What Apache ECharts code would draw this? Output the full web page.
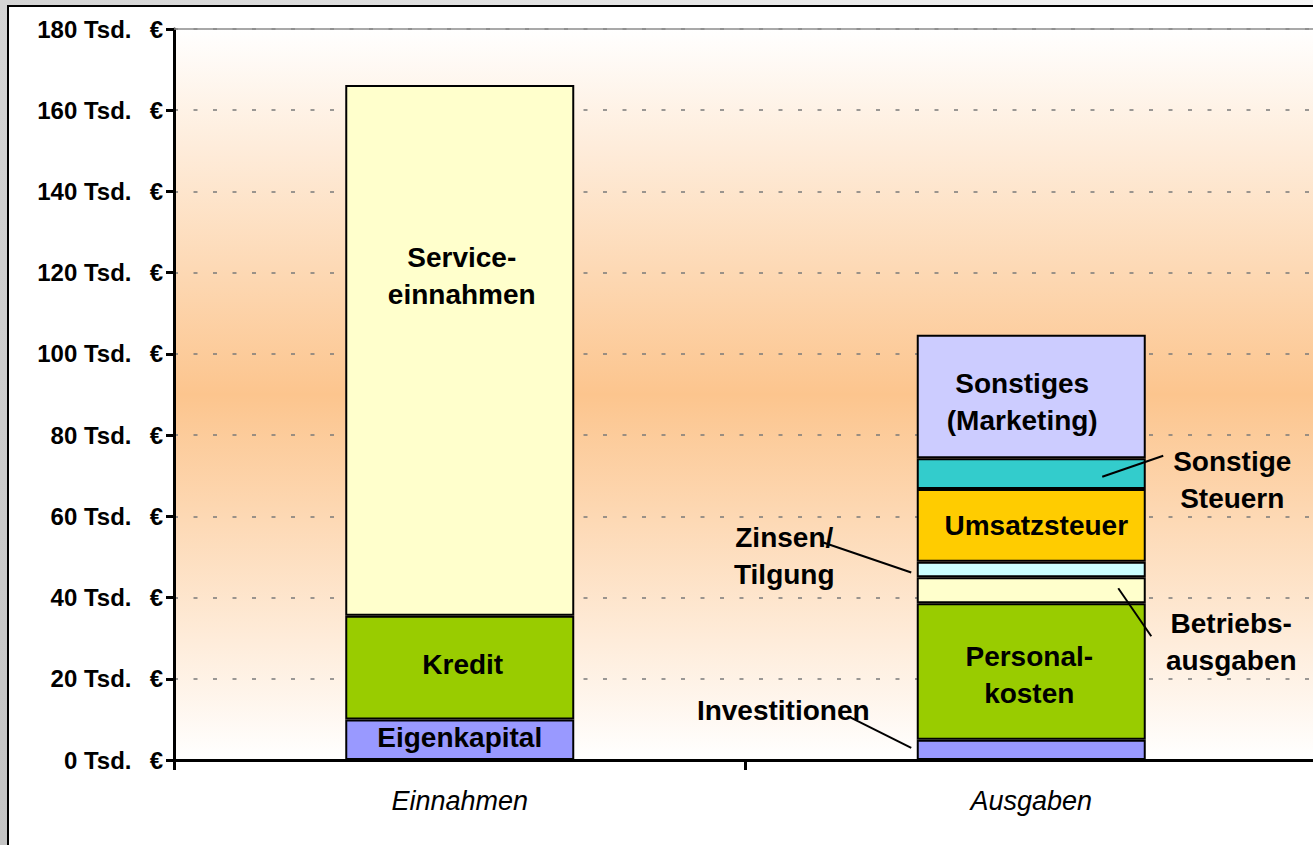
<!DOCTYPE html>
<html><head><meta charset="utf-8">
<script src="https://cdn.jsdelivr.net/npm/echarts@6/dist/echarts.min.js"></script>
<style>html,body{margin:0;padding:0;background:#fff;overflow:hidden}#c{width:1313px;height:845px;}</style>
</head><body><div id="c"></div>
<script>
// ---- data ----
const categories = ['Einnahmen', 'Ausgaben'];
const yTickValues = [0, 20, 40, 60, 80, 100, 120, 140, 160, 180];
const yUnit = ' Tsd.\u00a0\u00a0\u2009€';
const seriesNames = ['Eigenkapital', 'Kredit', 'Serviceeinnahmen', 'Investitionen', 'Personalkosten',
  'Betriebsausgaben', 'Zinsen/Tilgung', 'Umsatzsteuer', 'Sonstige Steuern', 'Sonstiges (Marketing)'];
const eigenkapital = [10, '-'];
const kredit = [25.5, '-'];
const serviceeinnahmen = [130.7, '-'];
const investitionen = ['-', 5.0];
const personalkosten = ['-', 33.6];
const betriebsausgaben = ['-', 6.4];
const zinsenTilgung = ['-', 3.8];
const umsatzsteuer = ['-', 17.9];
const sonstigeSteuern = ['-', 7.6];
const sonstiges = ['-', 30.4];
const labelTexts = ['Eigenkapital', 'Kredit', 'Service-\neinnahmen', 'Investitionen', 'Personal-\nkosten',
  'Betriebs-\nausgaben', 'Zinsen/\nTilgung', 'Umsatzsteuer', 'Sonstige\nSteuern', 'Sonstiges\n(Marketing)'];
const seriesValues = [eigenkapital, kredit, serviceeinnahmen, investitionen, personalkosten,
  betriebsausgaben, zinsenTilgung, umsatzsteuer, sonstigeSteuern, sonstiges];

// ---- styles ----
const colors = ['#9999FF', '#99CC00', '#FFFFCC', '#9999FF', '#99CC00', '#FFFFCC', '#CCFFFF', '#FFCC00', '#33CCCC', '#CCCCFF'];
const labelOffsets = [[0, -2], [3, -3], [2, -74], [-248, -39], [-2, 4], [200, 52], [-247, -14], [5, 0], [201, 6], [-9, 5]];
// leader lines: [start dx, dy, end dx, dy] relative to segment centre
const leaders = { 3: [-182, -33, -120, -2], 5: [87, -2, 120, 46], 6: [-208, -27, -120, 3], 8: [71, 3, 132, -18] };

const FONT = '"Liberation Sans", Arial, sans-serif';
const chart = echarts.init(document.getElementById('c'), null, { renderer: 'svg' });

const series = seriesNames.map((n, i) => ({
  name: n,
  type: 'bar',
  stack: 'total',
  barWidth: 229,
  data: seriesValues[i],
  itemStyle: { color: colors[i], borderColor: '#000', borderWidth: 2 },
  label: {
    show: true,
    position: 'inside',
    offset: labelOffsets[i],
    formatter: labelTexts[i],
    fontFamily: FONT,
    fontWeight: 'bold',
    fontSize: 28,
    lineHeight: 37,
    color: '#000',
    align: 'center'
  },
  emphasis: { disabled: true },
  animation: false
}));

const option = {
  animation: false,
  backgroundColor: '#fff',
  grid: {
    left: 174, top: 29, width: 1143, bottom: 85,
    outerBoundsMode: 'none',
    containLabel: false,
    show: true,
    borderWidth: 0,
    backgroundColor: {
      type: 'linear', x: 0, y: 0, x2: 0, y2: 1,
      colorStops: [
        { offset: 0, color: '#ffffff' },
        { offset: 0.5, color: '#fcc58e' },
        { offset: 1, color: '#ffffff' }
      ]
    }
  },
  xAxis: [{
    type: 'category',
    data: categories,
    axisLine: { lineStyle: { color: '#000', width: 3 } },
    axisTick: { show: true, length: 10, lineStyle: { color: '#000', width: 3 }, interval: 0 },
    axisLabel: { fontFamily: FONT, fontStyle: 'italic', fontSize: 27, color: '#000', margin: 27 },
    splitLine: { show: false }
  }, {
    type: 'category',
    position: 'top',
    data: categories,
    axisLine: { show: true, lineStyle: { color: '#8c8c8c', width: 1.5 } },
    axisTick: { show: false },
    axisLabel: { show: false },
    splitLine: { show: false }
  }],
  yAxis: {
    type: 'value',
    min: 0, max: 180, interval: 20,
    axisLine: { show: true, lineStyle: { color: '#000', width: 3 } },
    axisTick: { show: true, length: 8, lineStyle: { color: '#000', width: 3 } },
    axisLabel: {
      fontFamily: FONT, fontWeight: 'bold', fontSize: 24, color: '#000', margin: 11,
      formatter: v => (yTickValues.indexOf(v) >= 0 ? v + yUnit : '')
    },
    splitLine: { show: true, lineStyle: { color: '#7a7a7a', width: 1.5, type: [4, 15.5] } }
  },
  graphic: [
    { id: 'leftStrip', type: 'rect', shape: { x: 0, y: 0, width: 7, height: 845 },
      style: { fill: { type: 'linear', x: 0, y: 0, x2: 0, y2: 1, colorStops: [{ offset: 0, color: '#d4d4d4' }, { offset: 1, color: '#c4c4c4' }] } } },
    { id: 'topStrip', type: 'rect', shape: { x: 0, y: 0, width: 1313, height: 5 },
      style: { fill: { type: 'linear', x: 0, y: 0, x2: 1, y2: 0, colorStops: [{ offset: 0, color: '#d4d4d4' }, { offset: 1, color: '#f6f6f6' }] } } },
    { id: 'leftLine', type: 'rect', shape: { x: 7, y: 5, width: 2, height: 840 }, style: { fill: '#000' } },
    { id: 'topLine', type: 'rect', shape: { x: 7, y: 5, width: 1306, height: 2 }, style: { fill: '#000' } }
  ],
  series: series
};
chart.setOption(option);

// leader lines anchored at segment centres via the chart's own scales
const extra = [];
let cum = 0;
const ausIdx = 1;
seriesValues.forEach((vals, i) => {
  const v = vals[ausIdx];
  if (v === '-') return;
  const mid = cum + v / 2;
  cum += v;
  if (leaders[i]) {
    const p = chart.convertToPixel({ xAxisIndex: 0, yAxisIndex: 0 }, [categories[ausIdx], mid]);
    const L = leaders[i];
    extra.push({ id: 'lead' + i, type: 'line', z: 100,
      shape: { x1: p[0] + L[0], y1: p[1] + L[1], x2: p[0] + L[2], y2: p[1] + L[3] },
      style: { stroke: '#000', lineWidth: 2 } });
  }
});
chart.setOption({ graphic: extra });
</script></body></html>
